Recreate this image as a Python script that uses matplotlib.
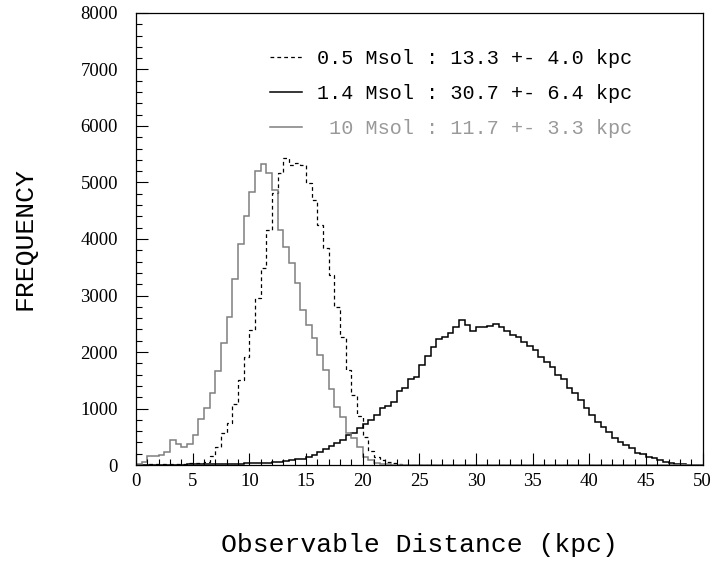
import numpy as np
import matplotlib
matplotlib.use("Agg")
import matplotlib.pyplot as plt
from matplotlib.lines import Line2D
from matplotlib.ticker import MultipleLocator

plt.rcParams['font.family'] = ['Liberation Serif', 'DejaVu Serif']

# bins of 0.5 kpc from 0 to 50
bin_edges = np.linspace(0, 50, 101)

# 0.5 Msol (dashed)
counts_05 = [0, 5, 10, 12, 15, 18, 20, 22, 25, 28,
             30, 35, 60, 160, 325, 560, 740, 1080, 1505, 1915,
             2390, 2960, 3480, 4160, 4810, 5165, 5430, 5310, 5350, 5310,
             4985, 4690, 4250, 3835, 3365, 2805, 2270, 1680, 1240, 870,
             500, 250, 150, 90, 50, 30, 15, 8, 3] + [0] * 51

# 1.4 Msol (black)
counts_14 = [0, 0, 2, 3, 4, 5, 6, 8, 9, 10,
             12, 13, 15, 16, 18, 20, 22, 24, 26, 28,
             30, 32, 35, 40, 50, 60, 70, 90, 100, 115,
             150, 180, 230, 290, 336, 383, 442, 531, 572, 649,
             726, 800, 885, 1003, 1044, 1121, 1316, 1357, 1516, 1563,
             1770, 1929, 2083, 2224, 2271, 2330, 2448, 2566, 2478, 2372,
             2437, 2448, 2460, 2490, 2448, 2372, 2301, 2271, 2183, 2100,
             2035, 1906, 1829, 1740, 1593, 1516, 1357, 1280, 1150, 1003,
             885, 767, 678, 578, 484, 401, 354, 307, 218, 195,
             148, 118, 89, 59, 41, 18, 10, 5, 3, 0]

# 10 Msol (grey)
counts_10 = [15, 60, 160, 160, 180, 230, 450, 370, 320, 370,
             540, 815, 1005, 1280, 1670, 2165, 2620, 3290, 3915, 4410,
             4840, 5195, 5330, 5165, 4870, 4165, 3865, 3570, 3230, 2745,
             2480, 2240, 1950, 1680, 1340, 1020, 850, 560, 470, 325,
             150, 90, 40, 20, 10, 5] + [0] * 54

labels = ["0.5 Msol : 13.3 +- 4.0 kpc",
          "1.4 Msol : 30.7 +- 6.4 kpc",
          " 10 Msol : 11.7 +- 3.3 kpc"]

grey = '#7f7f7f'
mono = {'family': 'Liberation Mono', 'size': 14.5}

fig = plt.figure(figsize=(7.14, 5.64), dpi=100)
ax = fig.add_axes([0.1905, 0.1755, 0.7935, 0.8015])

ax.stairs(counts_05, bin_edges, color='black', lw=0.9, linestyle=(0, (3, 2.5)))
ax.stairs(counts_14, bin_edges, color='black', lw=1.1)
ax.stairs(counts_10, bin_edges, color=grey, lw=1.1)

ax.set_xlim(0, 50)
ax.set_ylim(0, 8000)
ax.xaxis.set_major_locator(MultipleLocator(5))
ax.xaxis.set_minor_locator(MultipleLocator(1))
ax.yaxis.set_major_locator(MultipleLocator(1000))
ax.yaxis.set_minor_locator(MultipleLocator(200))
ax.tick_params(which='both', direction='in', top=False, right=False, width=0.8)
ax.tick_params(which='major', length=8.5, labelsize=13.5)
ax.tick_params(axis='y', which='major', pad=13)
ax.tick_params(axis='x', which='major', pad=6)
ax.tick_params(which='minor', length=4.3)
for s in ax.spines.values():
    s.set_linewidth(0.9)

ax.set_xlabel("Observable Distance (kpc)", family='Liberation Mono', fontsize=19, labelpad=31)
ax.set_ylabel("FREQUENCY", family='Liberation Mono', fontsize=19, labelpad=32)

handles = [Line2D([], [], color='black', lw=0.9, linestyle=(0, (3, 2.5))),
           Line2D([], [], color='black', lw=1.1),
           Line2D([], [], color=grey, lw=1.1)]
leg = ax.legend(handles, labels, loc='upper right', bbox_to_anchor=(0.876, 0.92),
                frameon=False, prop=mono, handlelength=1.6, handletextpad=0.75,
                labelspacing=0.78, borderpad=0, borderaxespad=0)
leg.get_texts()[2].set_color('#999999')

fig.savefig("out.png", dpi=100)
